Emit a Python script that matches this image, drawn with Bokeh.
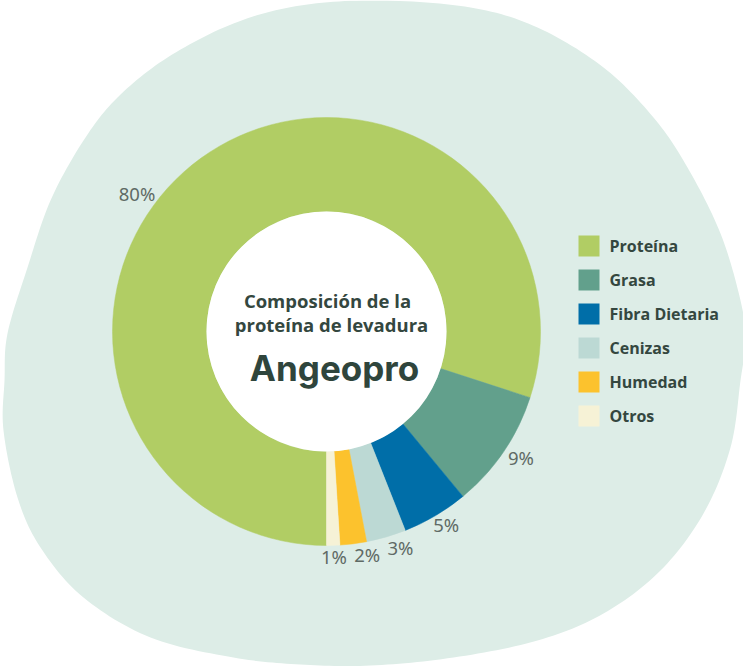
import numpy as np
from bokeh.plotting import figure
from bokeh.models import Range1d, ColumnDataSource
from bokeh.core.properties import value
from bokeh.embed import file_html
from bokeh.resources import INLINE

# ---------------- data ----------------
categories = ["Proteína", "Grasa", "Fibra Dietaria", "Cenizas", "Humedad", "Otros"]
values = [80, 9, 5, 3, 2, 1]
labels = ["80%", "9%", "5%", "3%", "2%", "1%"]
colors = ["#b1cd64", "#62a08c", "#006ea8", "#bcd9d4", "#fcc22d", "#f6f2d6"]
title_lines = ["Composición de la", "proteína de levadura"]
brand = "Angeopro"

# ---------------- layout / style ----------------
W, H = 743, 666
CX, CY = 326, H - 331          # donut centre (data units = px)
R_OUT, R_IN = 214, 120
BLOB = "#ddede7"
TXT = "#34473f"
LBL = "#5f6a65"

p = figure(width=W, height=H,
           x_range=Range1d(0, W), y_range=Range1d(0, H),
           output_backend="svg", toolbar_location=None, min_border=0)
p.axis.visible = False
p.grid.visible = False
p.outline_line_color = None
p.background_fill_color = "white"
p.border_fill_color = "white"

# ---------------- decorative blob ----------------
blob_pts = [(380, 0), (470, 7), (537, 27), (603, 67), (653, 117), (687, 167),
            (720, 233), (740, 300), (745, 340), (740, 380), (730, 447), (703, 513),
            (660, 570), (603, 613), (537, 640), (453, 657), (370, 665), (300, 664),
            (233, 657), (150, 637), (83, 597), (40, 547), (17, 497), (3, 430),
            (4, 380), (7, 333), (27, 267), (50, 200), (83, 140), (117, 97),
            (167, 57), (233, 23), (300, 5)]


def smooth_closed(pts, n=14):
    P = np.array(pts, float)
    N = len(P)
    out = []
    for i in range(N):
        p0, p1, p2, p3 = P[i - 1], P[i], P[(i + 1) % N], P[(i + 2) % N]
        for t in np.linspace(0, 1, n, endpoint=False):
            t2, t3 = t * t, t * t * t
            out.append(0.5 * ((2 * p1) + (-p0 + p2) * t
                              + (2 * p0 - 5 * p1 + 4 * p2 - p3) * t2
                              + (-p0 + 3 * p1 - 3 * p2 + p3) * t3))
    return np.array(out)


sm = smooth_closed(blob_pts)
p.patch(sm[:, 0], H - sm[:, 1], fill_color=BLOB, line_color=None)

# ---------------- donut ----------------
vals = np.array(values, float)
frac = vals / vals.sum()
cum = np.concatenate([[0], np.cumsum(frac)])
start = -np.pi / 2 - 2 * np.pi * cum[:-1]
end = -np.pi / 2 - 2 * np.pi * cum[1:]

src = ColumnDataSource(dict(start=start, end=end, color=colors, cat=categories))
p.annular_wedge(x=CX, y=CY, inner_radius=R_IN, outer_radius=R_OUT,
                start_angle="start", end_angle="end", direction="clock",
                fill_color="color", line_color="color", line_width=0.5, source=src)
p.circle(x=CX, y=CY, radius=R_IN, fill_color="white", line_color=None)

# ---------------- percentage labels ----------------
LFS = 18.5
mid = (start + end) / 2
mid = mid.copy()
mid[0] += np.deg2rad(16)   # the big slice's label sits a little higher in the original
r_lab = R_OUT + 8
ax = CX + r_lab * np.cos(mid)
ay = CY + r_lab * np.sin(mid)
wts = np.array([(0.57 * (len(s) - 1) + 0.85) * LFS for s in labels])
lx = ax + np.cos(mid) * wts / 2
ly = ay + np.sin(mid) * LFS * 0.15
# simple collision avoidance for the small slices near the bottom
GAP = 7
for i in range(len(labels) - 2, 0, -1):
    if abs(ly[i] - ly[i + 1]) < LFS and lx[i] - wts[i] / 2 < lx[i + 1] + wts[i + 1] / 2 + GAP:
        lx[i] = lx[i + 1] + (wts[i] + wts[i + 1]) / 2 + GAP
p.text(x=lx, y=ly, text=labels, text_align="center", text_baseline="middle",
       text_font=value("Noto Sans"), text_font_size=f"{LFS}px", text_color=LBL)

# ---------------- centre title + brand ----------------
p.text(x=[CX + 1, CX + 5], y=[H - 300, H - 324], text=title_lines,
       text_align="center", text_baseline="alphabetic",
       text_font=value("Open Sans"), text_font_style="bold",
       text_font_size="18.5px", text_color=TXT)
p.text(x=[CX + 8], y=[H - 367], text=[brand], text_align="center",
       text_baseline="alphabetic", text_font=value("Inter"), text_font_style="bold",
       text_font_size="35px", text_color="#2f453c")

# ---------------- legend ----------------
n = len(categories)
leg_y = np.array([H - (245.5 + 34 * i) for i in range(n)])
p.rect(x=[588.5] * n, y=leg_y, width=21, height=21, fill_color=colors, line_color=None)
p.text(x=[609] * n, y=leg_y, text=categories, text_align="left", text_baseline="middle",
       text_font=value("Open Sans"), text_font_style="bold", text_font_size="16px",
       text_color=TXT)

open("out.html", "w").write(file_html(p, INLINE))
